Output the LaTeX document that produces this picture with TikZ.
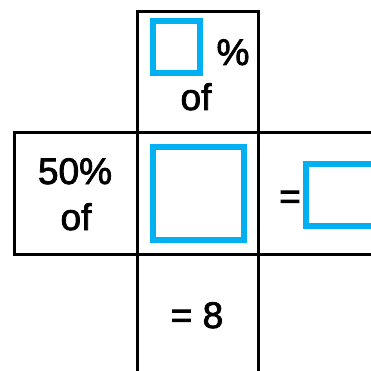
\documentclass[tikz,border=0pt]{standalone}
\usepackage{fontspec}
\setmainfont{Liberation Sans}
\newfontfamily\lblfont{Liberation Sans}[RawFeature={embolden=2.2}]
\definecolor{boxblue}{HTML}{00B0F0}
\begin{document}
\begin{tikzpicture}[x=1pt,y=-1pt,
  gridline/.style={line width=3pt, black, line cap=rect},
  bluebox/.style={line width=6pt, draw=boxblue},
  lbl/.style={anchor=base, inner sep=0pt, font=\lblfont\fontsize{37}{40}\selectfont}]
\useasboundingbox (0,0) rectangle (370,371);
% grid
\coordinate (tl) at (137,12);
\coordinate (tr) at (258,12);
\coordinate (bl) at (137,371);
\coordinate (br) at (258,371);
\coordinate (ml) at (14,133);
\coordinate (mr) at (370,133);
\coordinate (nl) at (14,254);
\coordinate (nr) at (370,254);
\draw[gridline] (tl) -- (tr);
\draw[gridline] (tl) -- (bl);
\draw[gridline] (tr) -- (br);
\draw[gridline] (ml) -- (mr);
\draw[gridline] (nl) -- (nr);
\draw[gridline] (ml) -- (nl);
% blue boxes
\draw[bluebox] (153,21) rectangle (200,73);
\draw[bluebox] (153,147) rectangle (244,240);
\draw[bluebox] (306,164) rectangle (375,226);
% texts
\node[lbl] (pct) at (233,65) {\%};
\node[lbl] (of1) at (196,110) {of};
\node[lbl] (fifty) at (75,184) {50\%};
\node[lbl] (of2) at (76,230) {of};
\node[lbl] (eq) at (290,209) {=};
\node[lbl] (eight) at (197,328) {= 8};
\end{tikzpicture}
\end{document}
